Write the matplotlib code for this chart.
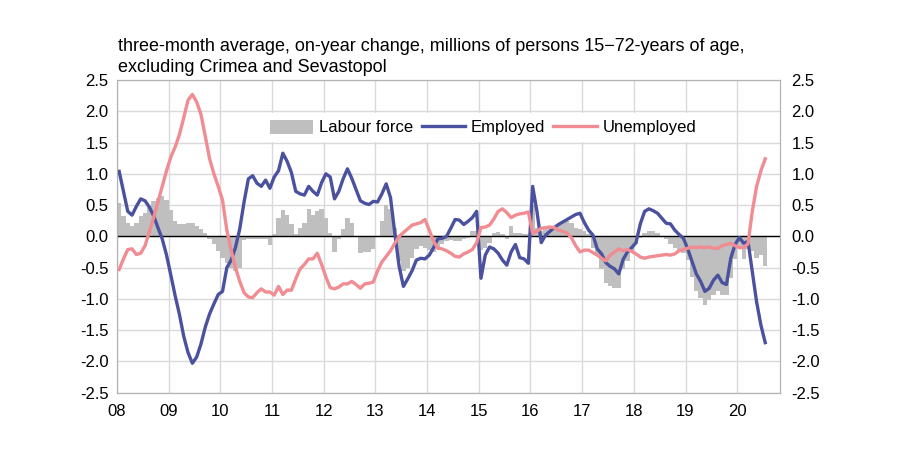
import numpy as np
import matplotlib
matplotlib.use("Agg")
import matplotlib.pyplot as plt
from matplotlib.patches import Patch
from matplotlib.lines import Line2D

plt.rcParams["font.family"] = ["Liberation Sans", "DejaVu Sans"]
plt.rcParams["axes.unicode_minus"] = False

# monthly data, Jan 2008 .. Jul 2020, millions of persons
labour_force = [
    0.53, 0.33, 0.22, 0.17, 0.22, 0.32, 0.38, 0.48, 0.57, 0.62, 0.64, 0.58,
    0.42, 0.25, 0.19, 0.20, 0.22, 0.21, 0.17, 0.12, 0.05, -0.05, -0.13, -0.24,
    -0.35, -0.43, -0.50, -0.55, -0.50, -0.06, -0.05, -0.05, -0.05, -0.05, -0.04, -0.14,
    0.04, 0.29, 0.42, 0.34, 0.19, 0.04, 0.13, 0.21, 0.43, 0.34, 0.41, 0.43,
    0.29, 0.05, -0.25, -0.05, 0.11, 0.30, 0.21, -0.01, -0.27, -0.25, -0.25, -0.20,
    -0.01, 0.25, 0.50, 0.43, 0.13, -0.40, -0.56, -0.50, -0.35, -0.20, -0.15, -0.18,
    -0.22, -0.25, -0.20, -0.12, -0.08, -0.06, -0.08, -0.08, -0.05, -0.03, 0.08, 0.08,
    -0.21, -0.18, -0.10, 0.05, 0.07, 0.03, -0.04, 0.16, 0.05, 0.05, 0.03, 0.03,
    0.50, 0.13, 0.08, 0.11, 0.13, 0.16, 0.19, 0.21, 0.24, 0.22, 0.14, 0.12,
    0.08, 0.04, -0.19, -0.30, -0.52, -0.75, -0.80, -0.83, -0.83, -0.52, -0.40, -0.25,
    -0.13, -0.03, 0.05, 0.09, 0.09, 0.05, 0.00, -0.05, -0.12, -0.18, -0.22, -0.27,
    -0.37, -0.65, -0.88, -0.99, -1.10, -1.02, -0.93, -0.88, -0.94, -0.93, -0.67, -0.36,
    -0.16, -0.36, -0.20, -0.24, -0.34, -0.30, -0.47,
]

employed = [
    1.04, 0.72, 0.40, 0.34, 0.48, 0.60, 0.57, 0.47, 0.33, 0.14, -0.04, -0.30,
    -0.62, -0.95, -1.25, -1.60, -1.86, -2.03, -1.93, -1.72, -1.45, -1.24, -1.08, -0.93,
    -0.88, -0.50, -0.38, -0.18, 0.12, 0.55, 0.92, 0.97, 0.85, 0.80, 0.90, 0.77,
    0.95, 1.05, 1.33, 1.20, 1.02, 0.72, 0.68, 0.66, 0.80, 0.72, 0.66, 0.86,
    1.00, 0.95, 0.60, 0.72, 0.92, 1.08, 0.93, 0.75, 0.57, 0.53, 0.51, 0.56,
    0.55, 0.68, 0.84, 0.62, 0.05, -0.48, -0.80, -0.68, -0.55, -0.38, -0.35, -0.36,
    -0.30, -0.18, -0.04, -0.03, 0.00, 0.13, 0.27, 0.26, 0.19, 0.24, 0.30, 0.40,
    -0.67, -0.30, -0.17, -0.20, -0.27, -0.38, -0.46, -0.25, -0.13, -0.34, -0.36, -0.43,
    0.80, 0.40, -0.10, 0.02, 0.08, 0.14, 0.19, 0.23, 0.27, 0.31, 0.35, 0.37,
    0.22, 0.10, 0.02, -0.20, -0.28, -0.42, -0.48, -0.52, -0.60, -0.37, -0.25, -0.18,
    -0.10, 0.20, 0.40, 0.44, 0.41, 0.37, 0.29, 0.21, 0.20, 0.10, 0.03, -0.03,
    -0.20, -0.40, -0.60, -0.72, -0.88, -0.83, -0.70, -0.62, -0.74, -0.77, -0.35, -0.13,
    -0.02, -0.11, -0.08, -0.56, -1.05, -1.42, -1.70,
]

unemployed = [
    -0.53, -0.36, -0.21, -0.20, -0.29, -0.27, -0.15, 0.07, 0.30, 0.55, 0.80, 1.05,
    1.27, 1.43, 1.63, 1.90, 2.18, 2.27, 2.15, 1.95, 1.60, 1.24, 1.00, 0.80,
    0.58, 0.10, -0.22, -0.50, -0.72, -0.90, -0.97, -0.98, -0.90, -0.84, -0.89, -0.89,
    -0.94, -0.80, -0.93, -0.86, -0.86, -0.68, -0.52, -0.45, -0.36, -0.36, -0.27, -0.45,
    -0.65, -0.82, -0.84, -0.81, -0.76, -0.76, -0.72, -0.77, -0.83, -0.76, -0.75, -0.73,
    -0.55, -0.41, -0.32, -0.23, -0.11, 0.00, 0.06, 0.12, 0.18, 0.20, 0.22, 0.27,
    0.10, -0.08, -0.19, -0.20, -0.23, -0.27, -0.32, -0.33, -0.28, -0.25, -0.21, -0.10,
    0.14, 0.15, 0.18, 0.28, 0.40, 0.44, 0.38, 0.30, 0.34, 0.36, 0.37, 0.39,
    0.05, 0.08, 0.13, 0.14, 0.15, 0.14, 0.10, 0.08, 0.05, -0.02, -0.15, -0.25,
    -0.22, -0.22, -0.26, -0.30, -0.35, -0.39, -0.30, -0.25, -0.20, -0.23, -0.21, -0.24,
    -0.28, -0.33, -0.35, -0.33, -0.32, -0.31, -0.30, -0.29, -0.30, -0.28, -0.23, -0.21,
    -0.19, -0.17, -0.18, -0.17, -0.18, -0.17, -0.19, -0.19, -0.15, -0.13, -0.11, -0.15,
    -0.18, -0.18, -0.12, 0.40, 0.80, 1.05, 1.24,
]

year_labels = ["08", "09", "10", "11", "12", "13", "14", "15", "16", "17", "18", "19", "20"]
y_ticks = [-2.5, -2.0, -1.5, -1.0, -0.5, 0.0, 0.5, 1.0, 1.5, 2.0, 2.5]

title = ("three-month average, on-year change, millions of persons 15\u221272-years of age,\n"
         "excluding Crimea and Sevastopol")

c_bar = "#bfbfbf"
c_emp = "#4a519e"
c_unemp = "#f08c92"
c_grid = "#d9d9d9"

x = np.arange(len(employed)) + 0.5

fig = plt.figure(figsize=(9, 4.55), dpi=100)
ax = fig.add_axes([0.13, 0.137, 0.737, 0.687])

ax.bar(x, labour_force, width=1.0, color=c_bar, linewidth=0, zorder=2)
ax.axhline(0, color="black", linewidth=1.0, zorder=3)
ax.plot(x, employed, color=c_emp, linewidth=2.4, zorder=4)
ax.plot(x, unemployed, color=c_unemp, linewidth=2.4, zorder=4)

ax.set_xlim(0, 154)
ax.set_ylim(-2.5, 2.5)
ax.set_xticks(np.arange(len(year_labels)) * 12)
ax.set_xticklabels(year_labels)
ax.set_yticks(y_ticks)
ax.set_yticklabels([f"{v:.1f}" for v in y_ticks])
ax.grid(True, color=c_grid, linewidth=1.0, zorder=0)
ax.set_axisbelow(True)
ax.tick_params(axis="y", length=0, labelsize=12, pad=6)
ax.tick_params(axis="x", length=0, labelsize=12, pad=8)
for s in ax.spines.values():
    s.set_color("#b3b3b3")

ax2 = ax.twinx()
ax2.set_ylim(-2.5, 2.5)
ax2.set_yticks(y_ticks)
ax2.set_yticklabels([f"{v:.1f}" for v in y_ticks])
ax2.tick_params(length=0, labelsize=12, pad=8)
for s in ax2.spines.values():
    s.set_color("#b3b3b3")

handles = [
    Patch(facecolor=c_bar, edgecolor="none"),
    Line2D([], [], color=c_emp, linewidth=2.4),
    Line2D([], [], color=c_unemp, linewidth=2.4),
]
leg = ax.legend(handles, ["Labour force", "Employed", "Unemployed"], ncol=3,
                loc="center", bbox_to_anchor=(0.552, 0.848), fontsize=12,
                frameon=True, fancybox=False, framealpha=1, facecolor="white",
                edgecolor="none", handlelength=2.6, handleheight=0.9,
                columnspacing=0.5, handletextpad=0.35, borderpad=0.4)
leg.set_zorder(5)

fig.text(0.131, 1 - 38 / 455, title, ha="left", va="top", fontsize=13, linespacing=1.3)

fig.savefig("out.png", dpi=100, facecolor="white")
